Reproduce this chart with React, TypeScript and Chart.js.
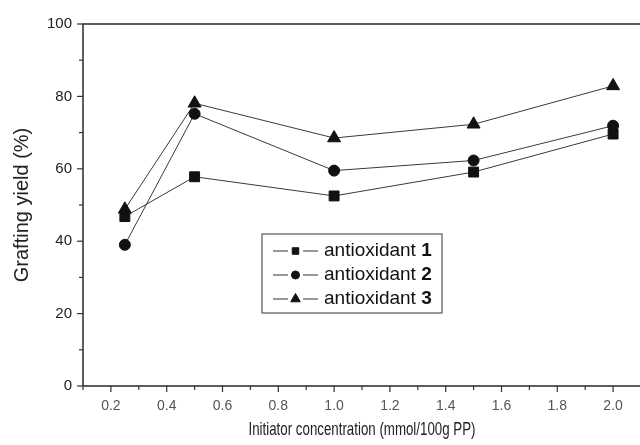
import React, { useEffect, useRef } from 'react';
import { Chart, registerables } from 'chart.js';
import { drawPoint } from 'chart.js/helpers';

Chart.register(...registerables);

// ---- data ----
const concentrations = [0.25, 0.5, 1.0, 1.5, 2.0];
const antioxidant1 = [46.8, 57.8, 52.5, 59.1, 69.6];
const antioxidant2 = [39.0, 75.2, 59.5, 62.3, 71.9];
const antioxidant3 = [48.8, 78.1, 68.5, 72.3, 82.9];
const seriesPrefix = 'antioxidant ';
const seriesNumbers = ['1', '2', '3'];
const xTickLabels = ['0.2', '0.4', '0.6', '0.8', '1.0', '1.2', '1.4', '1.6', '1.8', '2.0'];
const yTickLabels = ['0', '20', '40', '60', '80', '100'];
const xTitle = 'Initiator concentration (mmol/100g PP)';
const yTitle = 'Grafting yield (%)';

const FONT = 'Arial, "Liberation Sans", Helvetica, sans-serif';

const xLabelFor = (v: number) => {
  const s = (Math.round(v * 10) / 10).toFixed(1);
  return xTickLabels.includes(s) ? s : '';
};
const yLabelFor = (v: number) => {
  const s = String(Math.round(v));
  return yTickLabels.includes(s) ? s : '';
};

const frameAndTicks = {
  id: 'frameAndTicks',
  afterDraw(chart: any) {
    const { ctx, chartArea } = chart;
    const xs = chart.scales.x;
    const ys = chart.scales.y;
    ctx.save();
    ctx.strokeStyle = '#2a2a2a';
    ctx.lineWidth = 1.5;
    ctx.beginPath();
    ctx.moveTo(chartArea.left, chartArea.bottom);
    ctx.lineTo(chartArea.left, chartArea.top);
    ctx.lineTo(chartArea.right, chartArea.top);
    ctx.lineTo(chartArea.right, chartArea.bottom);
    ctx.lineTo(chartArea.left, chartArea.bottom);
    ctx.stroke();
    ctx.lineWidth = 1.2;
    ctx.strokeStyle = '#333';
    xs.ticks.forEach((t: any) => {
      const px = xs.getPixelForValue(t.value);
      const major = xLabelFor(t.value) !== '';
      ctx.beginPath();
      ctx.moveTo(px, chartArea.bottom);
      ctx.lineTo(px, chartArea.bottom + (major ? 6 : 4));
      ctx.stroke();
    });
    ys.ticks.forEach((t: any) => {
      const py = ys.getPixelForValue(t.value);
      const major = yLabelFor(t.value) !== '';
      ctx.beginPath();
      ctx.moveTo(chartArea.left, py);
      ctx.lineTo(chartArea.left - (major ? 6 : 4), py);
      ctx.stroke();
    });
    // condensed x-axis title
    const cx = (chartArea.left + chartArea.right) / 2;
    ctx.translate(cx, 430);
    ctx.scale(0.7, 1);
    ctx.fillStyle = '#222';
    ctx.font = `19px ${FONT}`;
    ctx.textAlign = 'center';
    ctx.textBaseline = 'middle';
    ctx.fillText(xTitle, 0, 0);
    ctx.restore();
  },
};

const innerLegend = {
  id: 'innerLegend',
  afterDatasetsDraw(chart: any, _args: any, opts: any) {
    const { ctx } = chart;
    const { x, y, w, h, rowH, firstRow } = opts;
    ctx.save();
    ctx.fillStyle = '#fff';
    ctx.fillRect(x, y, w, h);
    ctx.strokeStyle = '#555';
    ctx.lineWidth = 1.2;
    ctx.strokeRect(x, y, w, h);
    chart.data.datasets.forEach((ds: any, i: number) => {
      const cy = y + firstRow + i * rowH;
      const lx = x + 11;
      ctx.strokeStyle = '#333';
      ctx.lineWidth = 1;
      ctx.beginPath();
      ctx.moveTo(lx, cy);
      ctx.lineTo(lx + 15, cy);
      ctx.moveTo(lx + 30, cy);
      ctx.lineTo(lx + 45, cy);
      ctx.stroke();
      ctx.fillStyle = '#111';
      ctx.strokeStyle = '#111';
      drawPoint(ctx, { pointStyle: ds.pointStyle, radius: ds.pointStyle === 'triangle' ? 5.5 : ds.pointStyle === 'rect' ? 4.6 : 4, borderWidth: 1, rotation: 0 }, lx + 22.5, cy);
      ctx.fillStyle = '#111';
      ctx.textBaseline = 'middle';
      ctx.textAlign = 'left';
      ctx.font = `19px ${FONT}`;
      const tx = lx + 51;
      ctx.fillText(seriesPrefix, tx, cy);
      const wPrefix = ctx.measureText(seriesPrefix).width;
      ctx.font = `bold 19px ${FONT}`;
      ctx.fillText(seriesNumbers[i], tx + wPrefix, cy);
    });
    ctx.restore();
  },
};

export default function App() {
  const ref = useRef<HTMLCanvasElement>(null);
  useEffect(() => {
    document.body.style.margin = '0';
    const mk = (data: number[], style: string, r: number) => ({
      data: concentrations.map((c, i) => ({ x: c, y: data[i] })),
      borderColor: '#3a3a3a',
      borderWidth: 1,
      backgroundColor: '#111',
      pointBackgroundColor: '#111',
      pointBorderColor: '#111',
      pointStyle: style,
      pointRadius: r,
      pointBorderWidth: 1,
      tension: 0,
    });
    const chart = new Chart(ref.current!, {
      type: 'line',
      data: {
        datasets: [
          mk(antioxidant1, 'rect', 7),
          mk(antioxidant2, 'circle', 5.5),
          mk(antioxidant3, 'triangle', 7.5),
        ],
      },
      options: {
        animation: false,
        responsive: false,
        devicePixelRatio: 1,
        layout: { padding: { top: 24, right: 0, left: 0, bottom: 0 } },
        plugins: {
          legend: { display: false },
          tooltip: { enabled: false },
          innerLegend: { x: 262, y: 234, w: 180, h: 79, rowH: 24, firstRow: 17 },
        } as any,
        scales: {
          x: {
            type: 'linear',
            min: 0.1,
            max: 2.1,
            border: { display: false },
            grid: { display: false, drawTicks: false },
            ticks: {
              stepSize: 0.1,
              autoSkip: false,
              maxRotation: 0,
              padding: 12,
              color: '#555',
              font: { size: 14, family: FONT },
              callback: (v: any) => xLabelFor(Number(v)),
            },
            afterFit: (s: any) => { s.height = 59; },
          },
          y: {
            min: 0,
            max: 100,
            border: { display: false },
            grid: { display: false, drawTicks: false },
            ticks: {
              stepSize: 10,
              autoSkip: false,
              padding: 11,
              color: '#222',
              font: { size: 15, family: FONT },
              callback: (v: any) => yLabelFor(Number(v)),
            },
            title: {
              display: true,
              text: yTitle,
              color: '#222',
              font: { size: 20, family: FONT },
              padding: { top: 10, bottom: 0 },
            },
            afterFit: (s: any) => { s.width = 83; },
          },
        },
      },
      plugins: [frameAndTicks, innerLegend],
    } as any);
    return () => chart.destroy();
  }, []);
  return (
    <div style={{ width: 640, height: 445, position: 'relative', overflow: 'hidden', background: '#fff' }}>
      <canvas ref={ref} width={653} height={445} style={{ display: 'block' }} />
    </div>
  );
}
